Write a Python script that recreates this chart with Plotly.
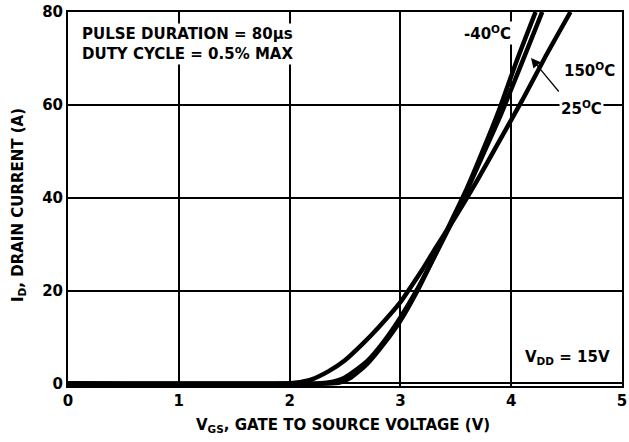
import plotly.graph_objects as go

# Data
vgs_150 = [0, 1.95, 2.05, 2.2, 2.35, 2.5, 2.65, 2.8, 3.0, 3.1, 3.2, 3.3, 3.5, 3.7, 3.9, 4.1, 4.3, 4.535]
id_150 = [0, 0, 0.15, 0.9, 2.6, 5.0, 8.3, 12.0, 17.5, 21.0, 24.6, 28.5, 36.0, 44.0, 52.5, 61.0, 70.0, 80.0]

vgs_25 = [0, 2.25, 2.35, 2.5, 2.7, 2.85, 3.0, 3.15, 3.3, 3.45, 3.6, 3.75, 3.9, 4.05, 4.28]
id_25 = [0, 0, 0.2, 1.3, 4.8, 9.0, 14.2, 20.2, 27.0, 34.0, 41.5, 49.5, 57.5, 66.3, 80.0]

vgs_m40 = [0, 2.35, 2.45, 2.55, 2.7, 2.85, 3.0, 3.15, 3.3, 3.45, 3.6, 3.75, 3.9, 4.05, 4.22]
id_m40 = [0, 0, 0.2, 1.2, 4.2, 8.5, 13.5, 19.8, 27.0, 34.5, 42.0, 50.5, 59.5, 69.5, 80.0]

x_ticks = [0, 1, 2, 3, 4, 5]
y_ticks = [0, 20, 40, 60, 80]

FONT = "DejaVu Sans, Arial, sans-serif"
FS = 15

fig = go.Figure()
for xs, ys, name in [(vgs_150, id_150, "150°C"), (vgs_25, id_25, "25°C"), (vgs_m40, id_m40, "-40°C")]:
    fig.add_trace(go.Scatter(x=xs, y=ys, mode="lines", name=name,
                             line=dict(color="black", width=4.5, shape="spline", smoothing=0.6),
                             showlegend=False, hoverinfo="skip"))

axis_common = dict(showgrid=True, gridcolor="black", gridwidth=2,
                   showline=True, linecolor="black", linewidth=2, mirror=True,
                   zeroline=False, ticks="", automargin=False, ticklabeloverflow="allow",
                   tickfont=dict(family=FONT, size=FS, color="black"))

fig.update_xaxes(range=[0, 5], tickvals=x_ticks, ticktext=[f"<b>{v}</b>" for v in x_ticks], **axis_common)
fig.update_yaxes(range=[-0.55, 80], tickvals=y_ticks, ticktext=[f"<b>{v}</b>" for v in y_ticks], **axis_common)

# page pixel -> data helpers (plot area: left 68, right 622, top 12, bottom 386)
def px2x(px):
    return (px - 68) / 554 * 5

def py2y(py):
    return (386 - py) / 374 * 80.55 - 0.55

def ann(text, x, y, xanchor="center", yanchor="middle", bg="white", **kw):
    fig.add_annotation(text=f"<b>{text}</b>", x=x, y=y, xref="x", yref="y", showarrow=False,
                       xanchor=xanchor, yanchor=yanchor, bgcolor=bg, borderpad=1,
                       font=dict(family=FONT, size=FS, color="black"), **kw)

ann("PULSE DURATION = 80μs<br>DUTY CYCLE = 0.5% MAX", px2x(80), py2y(23),
    xanchor="left", yanchor="top", align="left")
ann("-40<sup>O</sup>C", px2x(487), py2y(33))
ann("150<sup>O</sup>C", px2x(589), py2y(70), bg="rgba(0,0,0,0)")
ann("25<sup>O</sup>C", px2x(581), py2y(108))
ann("V<sub>DD</sub> = 15V", px2x(567), py2y(357), bg="rgba(0,0,0,0)")

# arrow pointing to the 25 C curve
fig.add_annotation(x=px2x(531), y=py2y(58), xref="x", yref="y", text="",
                   showarrow=True, ax=29, ay=35, arrowhead=2, arrowsize=1.6,
                   arrowwidth=1.2, arrowcolor="black")

# axis titles
fig.add_annotation(text="<b>V<sub>GS</sub>, GATE TO SOURCE VOLTAGE (V)</b>", xref="paper", yref="paper",
                   x=(343 - 68) / 554, y=(386 - 425) / 374, showarrow=False,
                   xanchor="center", yanchor="middle",
                   font=dict(family=FONT, size=FS, color="black"))
fig.add_annotation(text="<b>I<sub>D</sub>, DRAIN CURRENT (A)</b>", xref="paper", yref="paper",
                   x=(18 - 68) / 554, y=(386 - 205) / 374, showarrow=False, textangle=-90,
                   xanchor="center", yanchor="middle",
                   font=dict(family=FONT, size=FS, color="black"))

fig.update_layout(width=629, height=442, margin=dict(l=68, r=7, t=12, b=56),
                  paper_bgcolor="white", plot_bgcolor="white", hovermode=False)

fig.write_html("out.html", config={"displayModeBar": False},
               post_script="document.body.style.margin='0';")
